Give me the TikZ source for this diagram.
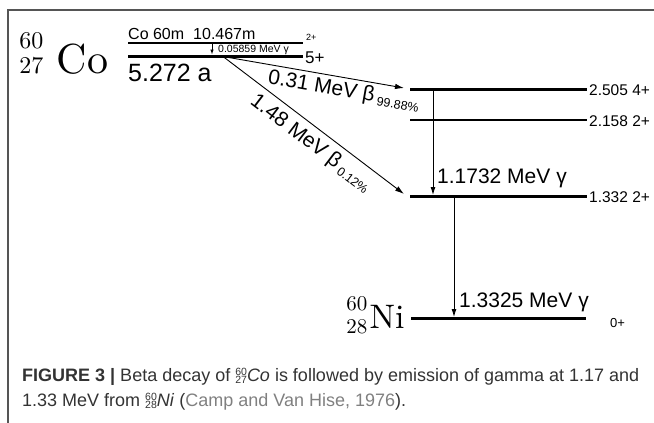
\documentclass[tikz,border=0pt]{standalone}
\usepackage{fontspec}
\newfontfamily\lib{Liberation Sans}
\newfontfamily\capf{Liberation Sans}
\usetikzlibrary{arrows.meta}
\definecolor{framegray}{HTML}{555555}
\definecolor{capdark}{HTML}{333333}
\definecolor{capgray}{HTML}{808080}
\newcommand\fs[1]{\fontsize{#1}{#1}\selectfont}
\newcommand\capiso[2]{\makebox[0pt][l]{\raisebox{6pt}{\fs{10.5}#1}}\raisebox{-2pt}{\fs{10.5}#2}}
\begin{document}
\begin{tikzpicture}[x=1pt,y=-1pt,
  lvthick/.style={line width=3pt},
  lvthin/.style={line width=1.2pt},
  betaarrow/.style={line width=0.9pt,-{Latex[length=9pt,width=5.5pt]}},
  gamarrow/.style={line width=0.9pt,-{Latex[length=8pt,width=5pt]}},
  smallarrow/.style={line width=0.8pt,-{Latex[length=5pt,width=3.5pt]}},
  txt/.style={inner sep=0pt,anchor=base west,font=\lib},
  lmtxt/.style={inner sep=0pt,anchor=base west,font=\fs{10}}]
\useasboundingbox (0,0) rectangle (654,423);
% frame
\coordinate (fbl) at (8,423); \coordinate (ftl) at (8,10); \coordinate (ftr) at (654,10);
\draw[framegray,line width=1.5pt] (fbl) -- (ftl) -- (ftr);
% Co label
\node[lmtxt,scale=2.4] (co60) at (19,48) {60};
\node[lmtxt,scale=2.4] (co27) at (19,73) {27};
\node[lmtxt,scale=4.2] (coname) at (56,73) {Co};
% Co levels
\coordinate (m1) at (128,43); \coordinate (m2) at (303,43);
\coordinate (g1) at (128,56); \coordinate (g2) at (303,56);
\draw[lvthin] (m1) -- (m2);
\draw[lvthick] (g1) -- (g2);
\node[txt] (comlab) at (128,39) {\fs{16}Co 60m\hskip 9pt 10.467m};
\node[txt] (mspin) at (306,41) {\fs{9}2+};
\node[txt] (gspin) at (305,63) {\fs{17}5+};
\node[txt] (halflife) at (128,81) {\fs{25}5.272 a};
\coordinate (it1) at (212,43.6); \coordinate (it2) at (212,54.5);
\draw[smallarrow] (it1) -- (it2);
\node[txt] (itlab) at (218,52.5) {\fs{10.5}0.05859 MeV γ};
% Ni levels
\coordinate (a1) at (410,89); \coordinate (a2) at (587,89);
\coordinate (b1) at (410,120); \coordinate (b2) at (587,120);
\coordinate (c1) at (410,196); \coordinate (c2) at (587,196);
\coordinate (n1) at (411,318); \coordinate (n2) at (586,318);
\draw[lvthick] (a1) -- (a2);
\draw[lvthin] (b1) -- (b2);
\draw[lvthick] (c1) -- (c2);
\draw[lvthick] (n1) -- (n2);
\node[txt] (alab) at (589,95) {\fs{15.5}2.505 4+};
\node[txt] (blab) at (589,126) {\fs{15.5}2.158 2+};
\node[txt] (clab) at (589,202) {\fs{15.5}1.332 2+};
\node[txt] (nlab) at (610,327) {\fs{13}0+};
% beta arrows
\coordinate (bs) at (223,56.5);
\coordinate (t1) at (404,88); \coordinate (t2) at (404,194);
\draw[betaarrow] (bs) -- (t1) node[pos=0.68,sloped,below,inner sep=3pt,font=\lib] (beta1) {\fs{21}0.31 MeV β\hskip3pt\raisebox{-3pt}{\fs{12.5}99.88\%}};
\draw[betaarrow] (bs) -- (t2) node[pos=0.54,sloped,below,inner sep=6pt,font=\lib] (beta2) {\fs{21}1.48 MeV β\hskip3pt\raisebox{-3pt}{\fs{12.5}0.12\%}};
% gamma arrows
\coordinate (gs1) at (433,89); \coordinate (ge1) at (433,195);
\coordinate (gs2) at (454,196); \coordinate (ge2) at (454,317);
\draw[gamarrow] (gs1) -- (ge1);
\draw[gamarrow] (gs2) -- (ge2);
\node[txt] (g1lab) at (437,183) {\fs{21}1.1732 MeV γ};
\node[txt] (g2lab) at (459,307) {\fs{21}1.3325 MeV γ};
% Ni label
\node[lmtxt,scale=2.1] (ni60) at (346,310) {60};
\node[lmtxt,scale=2.1] (ni28) at (346,333) {28};
\node[lmtxt,scale=3.4] (niname) at (369,328) {Ni};
% caption
\node[txt,text=capdark] (cap1) at (22,381) {\capf\fs{18}\textbf{FIGURE 3 |} Beta decay of \capiso{60}{27}\textit{Co} is followed by emission of gamma at 1.17 and};
\node[txt,text=capdark] (cap2) at (22,406) {\capf\fs{18}1.33 MeV from \capiso{60}{28}\textit{Ni} ({\color{capgray}Camp and Van Hise, 1976}).};
\end{tikzpicture}
\end{document}
